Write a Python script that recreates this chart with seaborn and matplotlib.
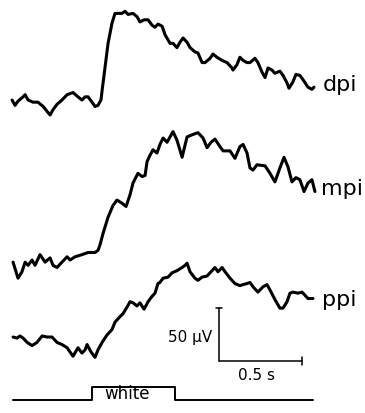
import pandas as pd
import matplotlib
matplotlib.use("Agg")
import matplotlib.pyplot as plt
import seaborn as sns

# time in ms (stimulus onset = 0), amplitude in microvolts
dpi_t = [-484, -466, -448, -417, -405, -387, -357, -327, -296, -254, -236, -212, -182, -151,
         -115, -85, -61, -42, -24, 0, 18, 36, 54, 61, 79, 97, 121, 139, 157, 182, 200, 218,
         248, 272, 290, 315, 339, 363, 381, 399, 424, 442, 472, 490, 514, 532, 551, 575, 593,
         623, 641, 666, 684, 714, 732, 756, 787, 817, 847, 853, 877, 895, 914, 938, 956, 986,
         1004, 1029, 1047, 1065, 1089, 1107, 1137, 1156, 1180, 1192, 1216, 1234, 1258, 1277,
         1307, 1331, 1343]
dpi_uv = [0, -5, -1, 3, 5, 0, -2, -2, -6, -14, -9, -4, 0, 5,
          7, 3, 0, 3, 3, -2, -6, -5, 0, 9, 31, 53, 72, 81, 81, 81, 83, 80,
          81, 78, 73, 75, 75, 70, 68, 71, 69, 61, 53, 53, 49, 54, 58, 54, 49,
          45, 44, 35, 35, 39, 43, 40, 37, 35, 30, 28, 33, 40, 37, 35, 35, 39,
          35, 26, 21, 30, 28, 25, 27, 23, 16, 11, 17, 24, 23, 19,
          12, 10, 12]

mpi_t = [-478, -448, -424, -405, -387, -363, -345, -315, -284, -254, -236, -212, -182, -151,
         -133, -103, -61, -24, 18, 36, 48, 67, 97, 127, 151, 182, 206, 230, 248, 278, 303,
         321, 333, 351, 369, 393, 411, 430, 454, 490, 514, 545, 575, 605, 641, 672, 696, 720,
         744, 774, 793, 835, 865, 895, 914, 938, 956, 974, 998, 1047, 1077, 1107, 1137, 1162,
         1186, 1210, 1234, 1258, 1283, 1307, 1331, 1349]
mpi_uv = [-2, -17, -11, -2, -5, 0, -5, 5, -2, 2, -5, -7, -2, 3,
          0, 3, 5, 7, 7, 9, 14, 25, 40, 51, 56, 53, 50, 61, 72, 81, 78,
          79, 92, 98, 103, 100, 108, 114, 110, 120, 112, 96, 115, 117, 119, 114, 105, 110,
          113, 106, 102, 102, 95, 106, 108, 100, 86, 84, 89, 88, 81, 73, 86, 96,
          87, 73, 77, 75, 64, 72, 75, 64]

ppi_t = [-478, -454, -436, -417, -393, -363, -333, -302, -272, -242, -212, -182, -151, -133,
         -115, -85, -61, -42, -30, -6, 18, 36, 61, 91, 121, 139, 169, 188, 212, 230, 248, 272,
         290, 315, 339, 363, 381, 399, 411, 430, 460, 484, 514, 545, 563, 575, 593, 623, 641,
         666, 696, 714, 744, 762, 787, 805, 835, 865, 895, 914, 938, 956, 974, 1004, 1035,
         1059, 1077, 1107, 1137, 1156, 1180, 1198, 1216, 1246, 1271, 1289, 1307, 1337]
ppi_uv = [0, -1, 1, -1, -5, -8, -5, 1, 0, 0, -5, -7, -10, -14,
          -18, -10, -15, -12, -7, -14, -19, -12, -5, 2, 7, 14, 19, 22, 28, 33, 32, 29,
          32, 26, 33, 38, 41, 50, 51, 55, 56, 60, 62, 65, 67, 69, 61, 55, 53,
          56, 57, 60, 65, 61, 65, 61, 55, 50, 48, 49, 50, 51, 47, 42, 47,
          49, 44, 35, 27, 27, 33, 41, 42, 41, 42, 39, 36, 36]

trace_names = ["dpi", "mpi", "ppi"]

# stimulus: on from 0 to 500 ms
stim_t = [-478, 0, 0, 500, 500, 1337]
stim_on = [0, 0, 1, 1, 0, 0]

# layout (vertical offsets in uV on the page)
offsets = {"dpi": 292.5, "mpi": 143, "ppi": 71}
label_pos = {"dpi": (1398, 301), "mpi": (1385, 204), "ppi": (1389, 100)}
stim_base, stim_height = 12.1, 12.2

sns.set_style("white")
plt.rcParams["font.family"] = ["DejaVu Sans"]
plt.rcParams["text.color"] = "black"

fig = plt.figure(figsize=(3.65, 4.13), dpi=100)
ax = fig.add_axes([0, 0, 1, 1])

traces = {"dpi": (dpi_t, dpi_uv), "mpi": (mpi_t, mpi_uv), "ppi": (ppi_t, ppi_uv)}
for name in trace_names:
    t, v = traces[name]
    df = pd.DataFrame({"t": t, "v": v})
    df["y"] = df["v"] + offsets[name]
    sns.lineplot(data=df, x="t", y="y", sort=False, estimator=None, color="black",
                 lw=2.2, ax=ax, solid_joinstyle="round", solid_capstyle="round")
    lx, ly = label_pos[name]
    ax.text(lx, ly, name, fontsize=16, ha="left", va="baseline", color="black")

# stimulus marker
stim = pd.DataFrame({"t": stim_t, "y": [stim_base + s * stim_height for s in stim_on]})
sns.lineplot(data=stim, x="t", y="y", sort=False, estimator=None, color="black", lw=1.4, ax=ax)
ax.text(212, 13.1, "white", fontsize=12, ha="center", va="baseline", color="black")

# scale bar: 50 uV, 0.5 s
bx, by = 768, 48.6
ax.plot([bx, bx], [by, by + 50], color="black", lw=1.1)
ax.plot([bx - 20, bx + 20], [by + 50, by + 50], color="black", lw=1.1)
ax.plot([bx, bx + 500], [by, by], color="black", lw=1.1)
ax.plot([bx + 500, bx + 500], [by - 4, by + 4], color="black", lw=1.1)
ax.text(726, 66.4, "50 µV", fontsize=11, ha="right", va="baseline", color="black")
ax.text(883, 30.8, "0.5 s", fontsize=11, ha="left", va="baseline", color="black")

ax.set_xlim(-557, 1652)
ax.set_ylim(0, 386)
ax.axis("off")

fig.savefig("out.png", dpi=100)
